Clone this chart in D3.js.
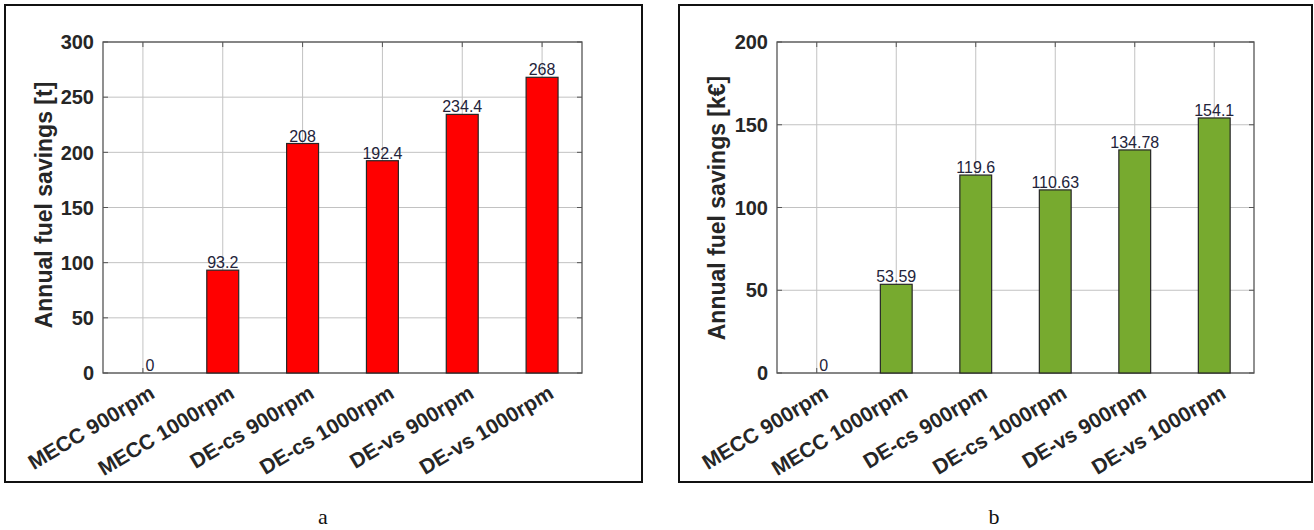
<!DOCTYPE html>
<html>
<head>
<meta charset="utf-8">
<script src="https://cdn.jsdelivr.net/npm/d3@7"></script>
<style>
  html, body { margin: 0; padding: 0; background: #fff; }
  svg { display: block; }
</style>
</head>
<body>
<svg id="chart" width="1314" height="530"></svg>
<script>
// Scenario names shared by both panels
const categories = ["MECC 900rpm", "MECC 1000rpm", "DE-cs 900rpm", "DE-cs 1000rpm", "DE-vs 900rpm", "DE-vs 1000rpm"];

// Panel a: annual fuel savings in tonnes
const fuelSavingsT = [0, 93.2, 208, 192.4, 234.4, 268];
const fuelLabelsT = ["0", "93.2", "208", "192.4", "234.4", "268"];
const tonneTicks = [0, 50, 100, 150, 200, 250, 300];

// Panel b: annual fuel savings in thousand euro
const fuelSavingsKEur = [0, 53.59, 119.6, 110.63, 134.78, 154.1];
const fuelLabelsKEur = ["0", "53.59", "119.6", "110.63", "134.78", "154.1"];
const euroTicks = [0, 50, 100, 150, 200];

const svg = d3.select("#chart");
const SANS = "Liberation Sans, Arial, sans-serif";

function drawPanel(opt) {
  const g = svg.append("g");

  // outer frame of the panel
  g.append("rect")
    .attr("x", opt.frame[0]).attr("y", opt.frame[1])
    .attr("width", opt.frame[2]).attr("height", opt.frame[3])
    .attr("fill", "#fff").attr("stroke", "#111").attr("stroke-width", 2);

  const x = d3.scaleBand()
    .domain(categories)
    .range([opt.left, opt.right])
    .paddingInner(0.6)
    .paddingOuter(0.3);
  const y = d3.scaleLinear().domain([0, d3.max(opt.ticks)]).range([opt.bottom, opt.top]);
  const cx = d => x(d) + x.bandwidth() / 2;

  // grid
  g.append("g").selectAll("line").data(opt.ticks).join("line")
    .attr("x1", opt.left).attr("x2", opt.right)
    .attr("y1", d => y(d)).attr("y2", d => y(d))
    .attr("stroke", "#c2c2c2").attr("stroke-width", 1);
  g.append("g").selectAll("line").data(categories).join("line")
    .attr("x1", cx).attr("x2", cx)
    .attr("y1", opt.top).attr("y2", opt.bottom)
    .attr("stroke", "#c2c2c2").attr("stroke-width", 1);

  // inward tick marks on all four sides
  const tl = 5;
  const ticks = g.append("g").attr("stroke", "#555").attr("stroke-width", 1);
  opt.ticks.forEach(t => {
    ticks.append("line").attr("x1", opt.left).attr("x2", opt.left + tl).attr("y1", y(t)).attr("y2", y(t));
    ticks.append("line").attr("x1", opt.right).attr("x2", opt.right - tl).attr("y1", y(t)).attr("y2", y(t));
  });
  categories.forEach(c => {
    ticks.append("line").attr("x1", cx(c)).attr("x2", cx(c)).attr("y1", opt.top).attr("y2", opt.top + tl);
    ticks.append("line").attr("x1", cx(c)).attr("x2", cx(c)).attr("y1", opt.bottom).attr("y2", opt.bottom - tl);
  });

  // plot box
  g.append("rect")
    .attr("x", opt.left).attr("y", opt.top)
    .attr("width", opt.right - opt.left).attr("height", opt.bottom - opt.top)
    .attr("fill", "none").attr("stroke", "#555").attr("stroke-width", 1.3);

  // bars (a zero value shows as a dark line on the baseline)
  g.append("g").selectAll("rect").data(opt.values).join("rect")
    .attr("x", (d, i) => x(categories[i]))
    .attr("width", x.bandwidth())
    .attr("y", d => y(d))
    .attr("height", d => y(0) - y(d))
    .attr("fill", opt.color)
    .attr("stroke", "#262626").attr("stroke-width", 1.2);

  // value labels above bars
  g.append("g").selectAll("text").data(opt.values).join("text")
    .attr("x", (d, i) => cx(categories[i]) + (d === 0 ? 7 : 0))
    .attr("y", d => y(d) - 2)
    .attr("text-anchor", "middle")
    .attr("font-family", SANS)
    .attr("font-size", 16)
    .attr("fill", "#23233a")
    .text((d, i) => opt.labels[i]);

  // y tick labels
  g.append("g").selectAll("text").data(opt.ticks).join("text")
    .attr("x", opt.left - 9)
    .attr("y", d => y(d))
    .attr("dy", "0.36em")
    .attr("text-anchor", "end")
    .attr("font-family", SANS)
    .attr("font-weight", "bold")
    .attr("font-size", 20)
    .attr("fill", "#262626")
    .text(d => d);

  // rotated category labels
  g.append("g").selectAll("text").data(categories).join("text")
    .attr("transform", d => `translate(${cx(d) + 13},${opt.bottom + 24}) rotate(-31)`)
    .attr("text-anchor", "end")
    .attr("font-family", SANS)
    .attr("font-weight", "bold")
    .attr("font-size", 21)
    .attr("fill", "#262626")
    .text(d => d);

  // y-axis title
  g.append("text")
    .attr("transform", `translate(${opt.titleX},${opt.titleY}) rotate(-90)`)
    .attr("text-anchor", "middle")
    .attr("dy", "0.35em")
    .attr("font-family", SANS)
    .attr("font-weight", "bold")
    .attr("font-size", 23)
    .attr("fill", "#262626")
    .text(opt.title);

  // panel caption
  g.append("text")
    .attr("x", opt.captionX).attr("y", 524)
    .attr("text-anchor", "middle")
    .attr("font-family", "Liberation Serif, serif")
    .attr("font-size", 22)
    .attr("fill", "#111")
    .text(opt.caption);
}

drawPanel({
  frame: [5, 5, 637, 477],
  left: 103, right: 582, top: 42, bottom: 373,
  values: fuelSavingsT, labels: fuelLabelsT, ticks: tonneTicks,
  color: "#ff0000",
  title: "Annual fuel savings [t]", titleX: 44, titleY: 205,
  caption: "a", captionX: 323
});

drawPanel({
  frame: [679, 5, 633, 477],
  left: 777, right: 1254, top: 42, bottom: 373,
  values: fuelSavingsKEur, labels: fuelLabelsKEur, ticks: euroTicks,
  color: "#77aa2f",
  title: "Annual fuel savings [k€]", titleX: 717, titleY: 208,
  caption: "b", captionX: 994
});
</script>
</body>
</html>
